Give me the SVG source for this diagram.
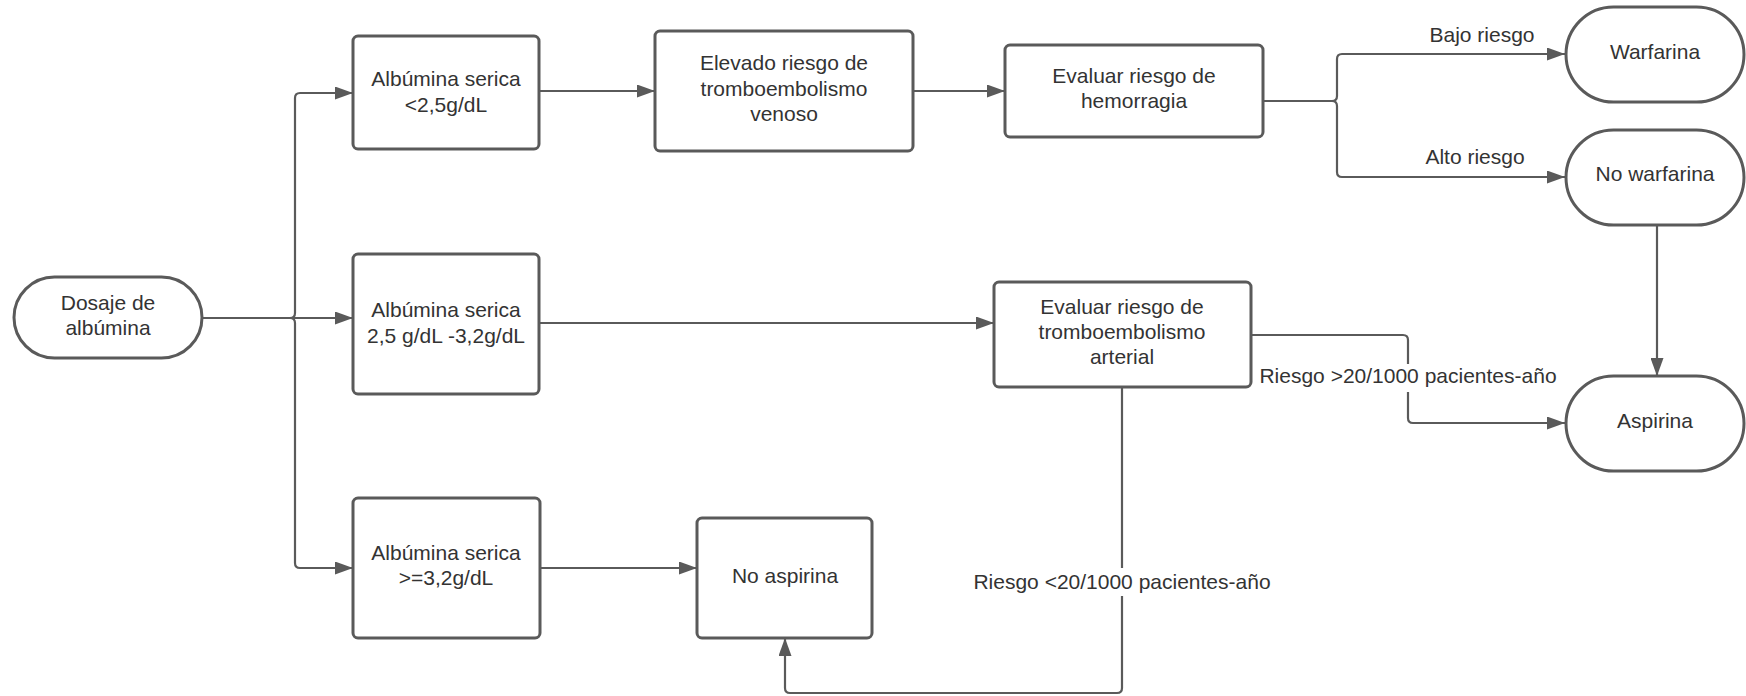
<svg xmlns="http://www.w3.org/2000/svg" width="1746" height="696" viewBox="0 0 1746 696">
<defs>
<style>
.node{fill:#ffffff;stroke:#5a5a5a;stroke-width:3}
.t{font-family:"Liberation Sans",Arial,sans-serif;font-size:21px;fill:#333333;text-anchor:middle}
.c{fill:none;stroke:#5a5a5a;stroke-width:2.2;stroke-linejoin:round}
.lbg{fill:#ffffff}
</style>
<marker id="ah" markerUnits="userSpaceOnUse" markerWidth="18" markerHeight="13" refX="18" refY="6.5" orient="auto">
<path d="M0,0 L18,6.5 L0,13 Z" fill="#5a5a5a"/>
</marker>
</defs>
<rect width="1746" height="696" fill="#ffffff"/>

<g id="connectors">
<path class="c" d="M202,318 H290 Q295,318 295,313 V98 Q295,93 300,93 H353" marker-end="url(#ah)"/>
<path class="c" d="M202,318 H353" marker-end="url(#ah)"/>
<path class="c" d="M202,318 H290 Q295,318 295,323 V563 Q295,568 300,568 H353" marker-end="url(#ah)"/>
<path class="c" d="M539,91 H655" marker-end="url(#ah)"/>
<path class="c" d="M913,91 H1005" marker-end="url(#ah)"/>
<path class="c" d="M1263,101 H1332 Q1337,101 1337,96 V59 Q1337,54 1342,54 H1565" marker-end="url(#ah)"/>
<path class="c" d="M1263,101 H1332 Q1337,101 1337,106 V172 Q1337,177 1342,177 H1565" marker-end="url(#ah)"/>
<path class="c" d="M539,323 H994" marker-end="url(#ah)"/>
<path class="c" d="M1251,335 H1403 Q1408,335 1408,340 V418 Q1408,423 1413,423 H1565" marker-end="url(#ah)"/>
<path class="c" d="M1657,225 V376" marker-end="url(#ah)"/>
<path class="c" d="M1122,387 V688 Q1122,693 1117,693 H790 Q785,693 785,688 V638" marker-end="url(#ah)"/>
<path class="c" d="M540,568 H697" marker-end="url(#ah)"/>
<rect class="lbg" x="1256" y="364" width="304" height="28"/>
<text class="t" x="1408" y="383">Riesgo &gt;20/1000 pacientes-año</text>
<rect class="lbg" x="970" y="568" width="304" height="28"/>
<text class="t" x="1122" y="589">Riesgo &lt;20/1000 pacientes-año</text>
<text class="t" x="1482" y="42">Bajo riesgo</text>
<text class="t" x="1475" y="164">Alto riesgo</text>
</g>

<g id="dosaje">
<rect class="node" x="14" y="277" width="188" height="81" rx="40.5"/>
<text class="t" x="108" y="310">Dosaje de</text>
<text class="t" x="108" y="335">albúmina</text>
</g>

<g id="alb1">
<rect class="node" x="353" y="36" width="186" height="113" rx="5"/>
<text class="t" x="446" y="86">Albúmina serica</text>
<text class="t" x="446" y="112">&lt;2,5g/dL</text>
</g>

<g id="alb2">
<rect class="node" x="353" y="254" width="186" height="140" rx="5"/>
<text class="t" x="446" y="317">Albúmina serica</text>
<text class="t" x="446" y="343">2,5 g/dL -3,2g/dL</text>
</g>

<g id="alb3">
<rect class="node" x="353" y="498" width="187" height="140" rx="5"/>
<text class="t" x="446" y="560">Albúmina serica</text>
<text class="t" x="446" y="585">&gt;=3,2g/dL</text>
</g>

<g id="elevado">
<rect class="node" x="655" y="31" width="258" height="120" rx="5"/>
<text class="t" x="784" y="70">Elevado riesgo de</text>
<text class="t" x="784" y="96">tromboembolismo</text>
<text class="t" x="784" y="121">venoso</text>
</g>

<g id="hemorragia">
<rect class="node" x="1005" y="45" width="258" height="92" rx="5"/>
<text class="t" x="1134" y="83">Evaluar riesgo de</text>
<text class="t" x="1134" y="108">hemorragia</text>
</g>

<g id="arterial">
<rect class="node" x="994" y="282" width="257" height="105" rx="5"/>
<text class="t" x="1122" y="314">Evaluar riesgo de</text>
<text class="t" x="1122" y="339">tromboembolismo</text>
<text class="t" x="1122" y="364">arterial</text>
</g>

<g id="noaspirina">
<rect class="node" x="697" y="518" width="175" height="120" rx="5"/>
<text class="t" x="785" y="583">No aspirina</text>
</g>

<g id="warfarina">
<rect class="node" x="1566" y="7" width="178" height="95" rx="47.5"/>
<text class="t" x="1655" y="59">Warfarina</text>
</g>

<g id="nowarfarina">
<rect class="node" x="1566" y="130" width="178" height="95" rx="47.5"/>
<text class="t" x="1655" y="181">No warfarina</text>
</g>

<g id="aspirina">
<rect class="node" x="1566" y="376" width="178" height="95" rx="47.5"/>
<text class="t" x="1655" y="428">Aspirina</text>
</g>
</svg>
